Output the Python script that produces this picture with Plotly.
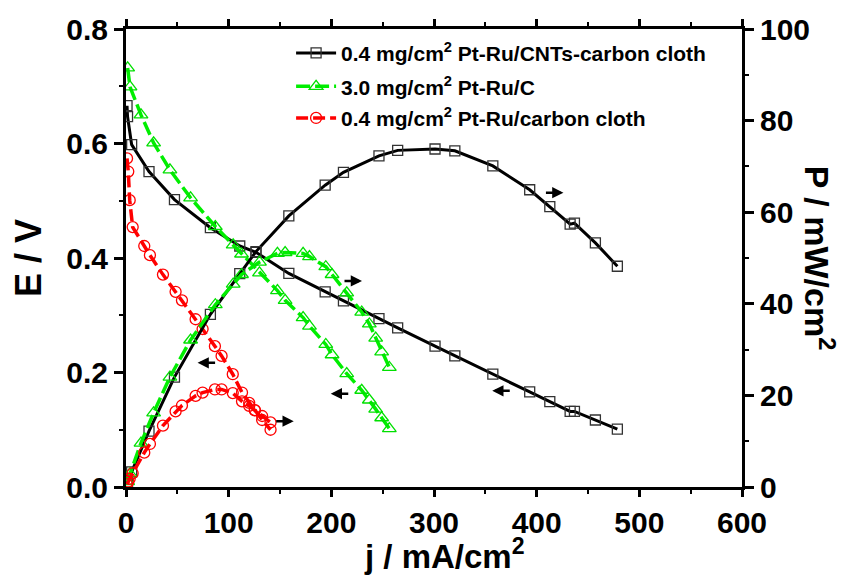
import plotly.graph_objects as go

# ---- data ----
# 0.4 mg/cm2 Pt-Ru/CNTs-carbon cloth (black squares)
j_cnt = [1, 1.5, 5.5, 22.4, 47.2, 82.2, 110.8, 126.6, 158.6, 194, 211.8, 246.4, 264.6, 301, 320.3, 357.3, 393.2, 412.8, 432.6, 436.8, 457.2, 478.6]
E_cnt = [0.666, 0.647, 0.598, 0.551, 0.502, 0.453, 0.421, 0.410, 0.373, 0.341, 0.325, 0.294, 0.278, 0.246, 0.229, 0.197, 0.166, 0.149, 0.132, 0.132, 0.117, 0.101]
P_cnt = [0.7, 1.0, 3.3, 12.2, 24.0, 37.7, 46.6, 51.4, 59.2, 65.9, 68.7, 72.3, 73.5, 73.8, 73.4, 70.1, 64.9, 61.2, 57.4, 57.6, 53.3, 48.2]

# 3.0 mg/cm2 Pt-Ru/C (green triangles)
j_c = [1.6, 3.9, 14.6, 26.9, 42.8, 62.9, 87, 104.4, 112.5, 130, 147.5, 155, 172.5, 178.7, 194.6, 200.7, 215, 229.6, 237, 243.2, 249, 256.5]
E_c = [0.732, 0.699, 0.650, 0.601, 0.554, 0.505, 0.455, 0.423, 0.407, 0.374, 0.343, 0.326, 0.296, 0.281, 0.249, 0.231, 0.198, 0.169, 0.152, 0.136, 0.121, 0.102]
P_c = [1.2, 2.9, 9.6, 16.2, 24.0, 32.1, 39.8, 44.3, 46.4, 49.1, 51.0, 51.2, 51.0, 50.3, 48.1, 46.4, 42.4, 38.2, 35.6, 32.5, 29.5, 26.1]

# 0.4 mg/cm2 Pt-Ru/carbon cloth (red circles)
j_cc = [1, 2.2, 3.6, 6.5, 17.8, 23.3, 36, 48.3, 54.5, 67.8, 74.6, 86.6, 93.1, 104, 113, 120, 125.5, 132.6, 140.8]
E_cc = [0.574, 0.551, 0.501, 0.454, 0.421, 0.405, 0.371, 0.341, 0.326, 0.293, 0.276, 0.246, 0.229, 0.197, 0.165, 0.147, 0.134, 0.117, 0.100]
P_cc = [0.6, 1.2, 1.8, 3.0, 7.5, 9.4, 13.4, 16.5, 17.8, 19.9, 20.6, 21.3, 21.3, 20.5, 18.7, 17.7, 16.8, 15.5, 14.1]

legend_names = ["0.4 mg/cm<sup>2</sup> Pt-Ru/CNTs-carbon cloth",
                "3.0 mg/cm<sup>2</sup> Pt-Ru/C",
                "0.4 mg/cm<sup>2</sup> Pt-Ru/carbon cloth"]

# axis-indicator arrows: (x center, E-axis y, direction)
arrow_x = [365.5, 417.3, 208.2, 221.1, 78.5, 154.6]
arrow_y = [0.168, 0.514, 0.163, 0.360, 0.217, 0.115]
arrow_dir = [-1, 1, -1, 1, -1, 1]

FONT = "Liberation Sans, Arial, sans-serif"

fig = go.Figure()

series = [
    (j_cnt, E_cnt, P_cnt, "black", "#333333", "square-open", "solid", 10, 3, "legend"),
    (j_c, E_c, P_c, "#00ee00", "#00e000", "triangle-up-open", "14px,5px", 12, 3.5, "legend2"),
    (j_cc, E_cc, P_cc, "#ff0000", "#ff0000", "circle-open", "12px,5px", 11, 3.5, "legend3"),
]

for i, (jj, EE, PP, lc, mc, sym, dash, ms, lw, lg) in enumerate(series):
    fig.add_trace(go.Scatter(
        x=jj, y=EE, mode="lines+markers", name=legend_names[i], legend=lg,
        line=dict(color=lc, width=lw, dash=dash),
        marker=dict(symbol=sym, size=ms, color=mc, line=dict(width=1.3, color=mc)),
        yaxis="y"))
    fig.add_trace(go.Scatter(
        x=jj, y=PP, mode="lines+markers", name=legend_names[i], showlegend=False,
        line=dict(color=lc, width=lw, dash=dash),
        marker=dict(symbol=sym, size=ms, color=mc, line=dict(width=1.3, color=mc)),
        yaxis="y2"))

px_per_x = 616 / 600.0
for ax_, ay_, d in zip(arrow_x, arrow_y, arrow_dir):
    fig.add_annotation(x=ax_ + d * 9 / px_per_x, y=ay_, xref="x", yref="y",
                       ax=-d * 19, ay=0, axref="pixel", ayref="pixel",
                       text="", showarrow=True, arrowhead=2, arrowsize=0.9,
                       arrowwidth=2.5, arrowcolor="black")

title_font = dict(family=FONT, size=33, color="black", weight="bold")
# right axis title (reads top-to-bottom)
fig.add_annotation(x=1.165, y=0.5, xref="paper", yref="paper",
                   text="P / mW/cm<sup>2</sup>", showarrow=False, textangle=90,
                   font=dict(family=FONT, size=34, color="black", weight="bold"))
# bottom axis title
fig.add_annotation(x=0.517, y=-0.146, xref="paper", yref="paper", yanchor="middle",
                   text="j / mA/cm<sup>2</sup>", showarrow=False, font=title_font)

axis_font = dict(family=FONT, size=30, color="black", weight="bold")

fig.update_layout(
    width=851, height=575,
    margin=dict(l=126, r=109, t=29, b=88, autoexpand=False),
    paper_bgcolor="white", plot_bgcolor="white",
    font=dict(family=FONT, color="black"),
    xaxis=dict(range=[0, 600], dtick=100, showgrid=False, zeroline=False, automargin=False,
               showline=True, linewidth=3, linecolor="black", mirror="ticks",
               ticks="outside", ticklen=7, tickwidth=2.5, tickcolor="black",
               minor=dict(dtick=50, ticks="outside", ticklen=4, tickwidth=2, tickcolor="black"),
               tickfont=axis_font),
    yaxis=dict(range=[0, 0.8], dtick=0.2, tickformat=".1f", showgrid=False, zeroline=False,
               automargin=False,
               showline=True, linewidth=3, linecolor="black",
               ticks="outside", ticklen=9, tickwidth=2.5, tickcolor="black",
               minor=dict(dtick=0.1, ticks="outside", ticklen=4, tickwidth=2, tickcolor="black"),
               tickfont=axis_font,
               title=dict(text="E / V", standoff=14,
                          font=dict(family=FONT, size=36, color="black", weight="bold"))),
    yaxis2=dict(range=[0, 100], dtick=20, overlaying="y", side="right",
                showgrid=False, zeroline=False, automargin=False,
                showline=True, linewidth=3, linecolor="black",
                ticks="outside", ticklen=9, tickwidth=2.5, tickcolor="black",
                minor=dict(dtick=10, ticks="outside", ticklen=4, tickwidth=2, tickcolor="black"),
                tickfont=axis_font),
)

leg_common = dict(xanchor="left", yanchor="middle", bgcolor="rgba(0,0,0,0)",
                  font=dict(family=FONT, size=21, color="black", weight="bold"),
                  itemwidth=40)
fig.update_layout(
    legend=dict(x=0.268, y=0.947, **leg_common),
    legend2=dict(x=0.268, y=0.874, **leg_common),
    legend3=dict(x=0.268, y=0.805, **leg_common),
)

fig.write_html("out.html", config={"displayModeBar": False},
               post_script="document.body.style.margin='0';document.body.style.padding='0';")
